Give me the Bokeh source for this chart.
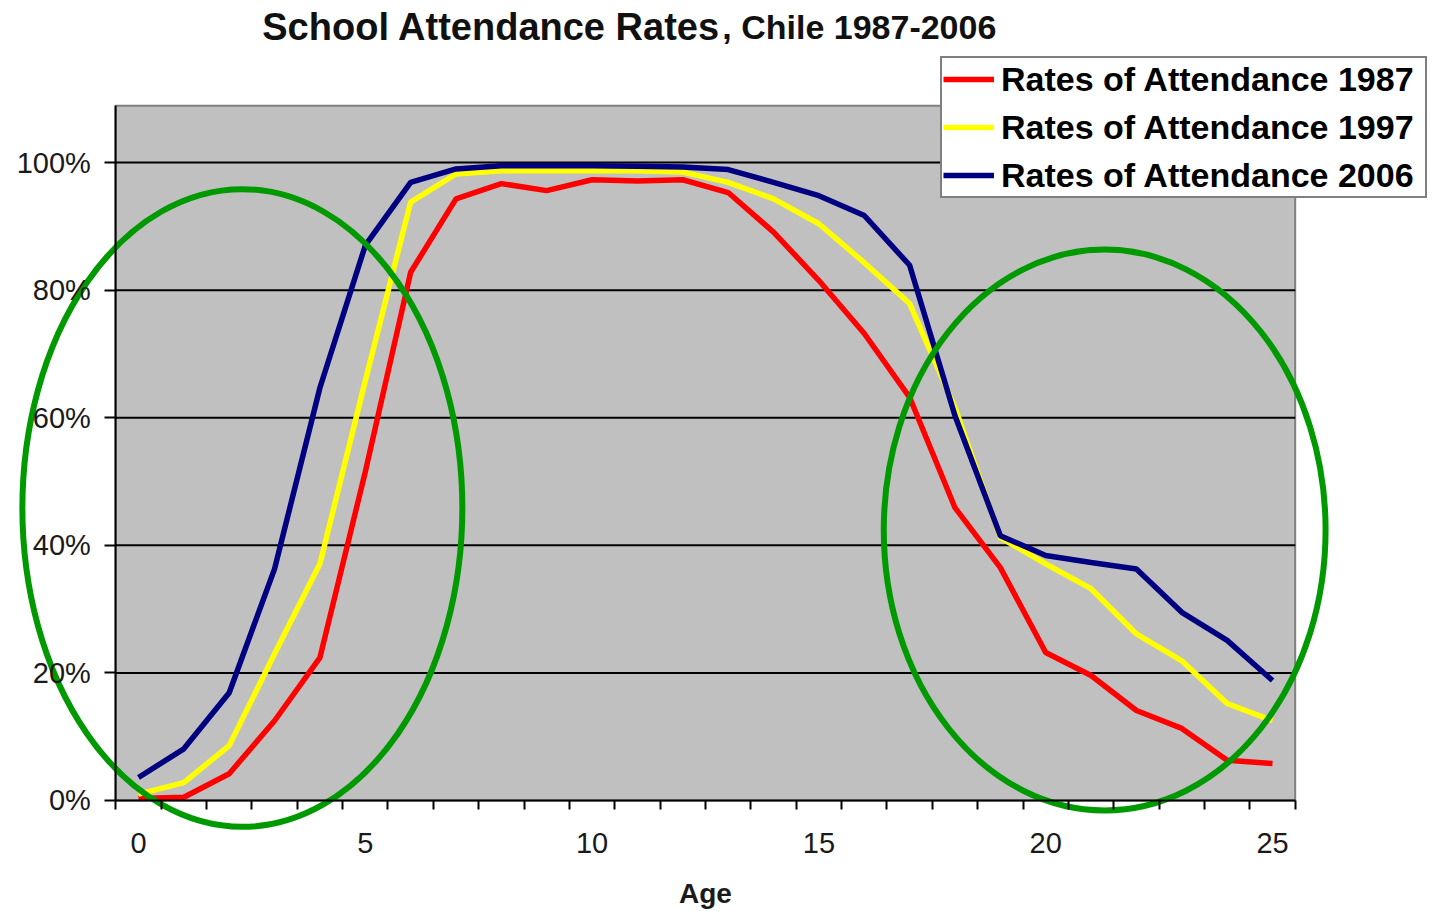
from bokeh.plotting import figure
from bokeh.models import Range1d, FixedTicker, NumeralTickFormatter, Label
from bokeh.embed import file_html
from bokeh.resources import INLINE

# ---------------- data ----------------
ages = list(range(26))
rate_1987 = [0.003, 0.005, 0.042, 0.125, 0.224, 0.515, 0.828, 0.943, 0.967, 0.956,
             0.973, 0.971, 0.973, 0.953, 0.891, 0.815, 0.732, 0.632, 0.459, 0.365,
             0.232, 0.196, 0.141, 0.113, 0.063, 0.058]
rate_1997 = [0.010, 0.028, 0.086, 0.230, 0.371, 0.658, 0.938, 0.982, 0.987, 0.987,
             0.987, 0.987, 0.985, 0.969, 0.943, 0.904, 0.843, 0.779, 0.616, 0.412,
             0.371, 0.332, 0.261, 0.219, 0.152, 0.125]
rate_2006 = [0.036, 0.081, 0.169, 0.363, 0.647, 0.870, 0.969, 0.990, 0.995, 0.995,
             0.995, 0.994, 0.993, 0.989, 0.969, 0.948, 0.917, 0.839, 0.603, 0.415,
             0.384, 0.373, 0.363, 0.295, 0.251, 0.188]
series_labels = ["Rates of Attendance 1987", "Rates of Attendance 1997", "Rates of Attendance 2006"]
series_colors = ["#FF0000", "#FFFF00", "#000080"]
x_tick_labels = [0, 5, 10, 15, 20, 25]
y_ticks = [0.0, 0.2, 0.4, 0.6, 0.8, 1.0]

# plot-area extent (data units)
X_MIN, X_MAX = -0.5, 25.5
Y_MIN, Y_MAX = 0.0, 1.089

# highlight ellipses: (center x, center y, width, height) in data units
ell_x = [2.29, 21.30]
ell_y = [0.4585, 0.424]
ell_w = [9.70, 9.74]
ell_h = [1.00, 0.879]

FONT = "Liberation Sans"

p = figure(width=1433, height=911,
           x_range=Range1d(-3.042, 28.549), y_range=Range1d(-0.174, 1.254),
           output_backend="svg", toolbar_location=None,
           min_border=0, min_border_left=0, min_border_right=0,
           min_border_top=0, min_border_bottom=0,
           background_fill_color="white", border_fill_color="white")
p.outline_line_color = None
p.xgrid.visible = False
p.ygrid.visible = False

# grey plot area
p.quad(left=[X_MIN], right=[X_MAX], bottom=[Y_MIN], top=[Y_MAX],
       fill_color="#C0C0C0", line_color="#808080", line_width=2)

# horizontal gridlines
grid_vals = y_ticks[1:]
p.segment(x0=[X_MIN] * len(grid_vals), x1=[X_MAX] * len(grid_vals),
          y0=grid_vals, y1=grid_vals, line_color="black", line_width=2)

# x axis
xa = p.xaxis[0]
xa.fixed_location = Y_MIN
xa.bounds = (X_MIN, X_MAX)
xa.ticker = FixedTicker(ticks=x_tick_labels,
                        minor_ticks=[a - 0.5 for a in ages] + [ages[-1] + 0.5])
xa.major_tick_out = 0
xa.major_tick_in = 0
xa.minor_tick_out = 9
xa.minor_tick_in = 0
xa.minor_tick_line_color = "black"
xa.minor_tick_line_width = 2
xa.axis_line_color = "black"
xa.axis_line_width = 2
xa.major_label_text_font = FONT
xa.major_label_text_font_size = "29px"
xa.major_label_text_color = "#1a1a1a"
xa.major_label_standoff = 24
xa.axis_label = "Age"
xa.axis_label_text_font = FONT
xa.axis_label_text_font_size = "28px"
xa.axis_label_text_font_style = "bold"
xa.axis_label_text_color = "#1a1a1a"
xa.axis_label_standoff = 21

# y axis
ya = p.yaxis[0]
ya.fixed_location = X_MIN
ya.bounds = (Y_MIN, Y_MAX)
ya.ticker = FixedTicker(ticks=y_ticks)
ya.formatter = NumeralTickFormatter(format="0%")
ya.major_tick_out = 11
ya.major_tick_in = 0
ya.major_tick_line_color = "black"
ya.major_tick_line_width = 2
ya.minor_tick_out = 0
ya.minor_tick_in = 0
ya.axis_line_color = "black"
ya.axis_line_width = 2
ya.major_label_text_font = FONT
ya.major_label_text_font_size = "29px"
ya.major_label_text_color = "#1a1a1a"
ya.major_label_standoff = 14

# series lines
for vals, lab, col in zip([rate_1987, rate_1997, rate_2006], series_labels, series_colors):
    p.line(ages, vals, line_color=col, line_width=5.5, legend_label=lab)

# ellipses
p.ellipse(x=ell_x, y=ell_y, width=ell_w, height=ell_h,
          fill_color=None, line_color="#009900", line_width=6)

lg = p.legend[0]
lg.location = (940, 713)
lg.margin = 0
lg.padding = 1
lg.spacing = 8
lg.label_height = 40
lg.glyph_height = 40
lg.glyph_width = 51
lg.label_standoff = 7
lg.label_width = 423
lg.label_text_font = FONT
lg.label_text_font_size = "34px"
lg.label_text_font_style = "bold"
lg.label_text_color = "black"
lg.border_line_color = "black"
lg.border_line_width = 2
lg.background_fill_color = "white"
lg.background_fill_alpha = 1.0

# title (two parts with different sizes)
p.add_layout(Label(x=12.83, y=1.213, x_units="data", y_units="data",
                   text="School Attendance Rates", text_align="right",
                   text_baseline="alphabetic", text_font=FONT, text_font_size="38px",
                   text_font_style="bold", text_color="#111111"))
p.add_layout(Label(x=12.87, y=1.213, x_units="data", y_units="data",
                   text=", Chile 1987-2006", text_align="left",
                   text_baseline="alphabetic", text_font=FONT, text_font_size="34px",
                   text_font_style="bold", text_color="#111111"))

open("out.html", "w").write(file_html(p, INLINE))
